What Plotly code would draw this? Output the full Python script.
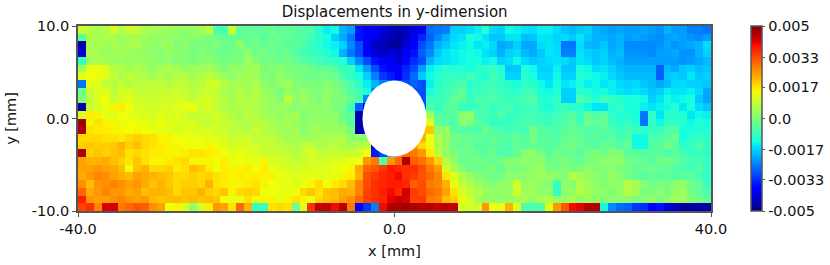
import plotly.graph_objects as go

# cell values, in units of 1e-4 mm, top row first
row_00 = [9,7,6,6,11,6,9,9,6,5, 4,4,3,2,3,4,8,-6,-7,9, -3,-3,-4,-3,-2,-4,-3,-4,-5,-6, -10,-14,-13,-20,-22,-36,-38,-38,-42,-44,
          -46,-44,-42,-40,-27,-26,-25,-17,-17,-16, -14,-10,-16,-17,-13,-14,-15,-16,-14,-14, -16,-18,-19,-18,-17,-20,-21,-22,-21,-22, -22,-21,-22,-23,-20,-22,-22,-25,-25,-26]
row_01 = [-4,6,5,6,5,4,5,5,4,3, 3,2,2,1,2,1,0,-1,-3,-2, -3,-3,-2,-4,-3,-2,-3,-4,-5,-7, -10,-12,-17,-21,-26,-36,-39,-41,-43,-46,
          -47,-44,-40,-34,-28,-24,-20,-16,-15,-11, -13,-15,-18,-18,-15,-15,-19,-18,-15,-15, -17,-16,-18,-15,-18,-20,-20,-21,-20,-22, -21,-22,-23,-24,-22,-21,-22,-23,-24,-22]
row_02 = [-46,5,5,4,5,4,5,6,3,2, 3,4,1,2,0,0,-1,1,-2,-2, 2,-2,-1,-3,-2,-3,-4,-4,-6,-8, -10,-13,-14,-17,-24,-30,-38,-44,-45,-47,
          -48,-42,-38,-30,-26,-20,-18,-15,-14,-13, -15,-14,-16,-21,-20,-17,-21,-21,-16,-15, -16,-26,-26,-16,-19,-20,-18,-21,-20,-24, -24,-24,-24,-23,-21,-23,-22,-21,-20,-16]
row_03 = [-42,6,5,3,4,5,4,3,3,2, 1,3,2,1,-1,1,0,-1,-2,-1, -1,2,-2,0,-2,-3,-2,-5,-7,-8, -9,-11,-13,-20,-26,-30,-38,-42,-44,-42,
          -44,-40,-36,-28,-24,-18,-15,-14,-13,-12, -13,-15,-17,-20,-17,-16,-19,-21,-18,-15, -16,-25,-25,-15,-17,-18,-17,-20,-19,-23, -23,-23,-24,-22,-22,-21,-23,-23,-20,-17]
row_04 = [-8,4,6,5,4,4,3,4,3,3, 2,2,1,1,0,1,2,1,-1,0, 0,4,1,-1,-1,-2,-1,-3,-4,-6, -7,-8,-9,-11,-17,-24,-30,-36,-38,-40,
          -42,-37,-33,-30,-20,-16,-15,-14,-13,-12, -12,-14,-13,-17,-16,-13,-16,-18,-17,-16, -15,-16,-18,-15,-16,-18,-17,-19,-20,-22, -22,-22,-22,-22,-22,-22,-23,-22,-21,-19]
row_05 = [4,13,14,12,7,6,5,6,5,3, 5,6,5,3,4,4,5,3,1,3, 3,4,5,0,1,2,0,-1,0,-2, -3,-3,-5,-8,-8,-15,-22,-30,-36,-38,
          -40,-34,-30,-22,-14,-12,-10,-11,-11,-12, -10,-9,-8,-11,-18,-18,-11,-13,-17,-17, -14,-18,-18,-12,-13,-16,-15,-17,-19,-20, -20,-20,-20,-28,-19,-21,-18,-17,-19,-18]
row_06 = [12,14,13,12,8,6,8,7,6,5, 7,5,6,7,5,6,8,6,4,2, 4,5,4,1,0,3,1,0,-1,-2, -1,-1,-2,-6,-9,-12,-17,-25,-32,-35,
          -38,-33,-27,-18,-13,-10,-9,-8,-9,-7, -9,-11,-7,-10,-17,-17,-10,-12,-16,-16, -13,-17,-17,-11,-12,-13,-14,-16,-18,-19, -19,-19,-19,-28,-18,-17,-18,-15,-18,-17]
row_07 = [-26,13,12,8,7,9,7,8,8,8, 8,7,8,8,6,7,10,10,7,5, 5,4,6,2,1,2,4,1,0,0, 0,1,0,-3,-6,-10,-14,-20,-25,-28,
          -30,-30,-28,-30,-14,-10,-8,-7,-6,-10, -9,-8,-8,-9,-10,-12,-9,-10,-13,-15, -12,-15,-14,-12,-14,-13,-15,-14,-16,-17, -16,-18,-19,-21,-19,-16,-16,-17,-17,-18]
row_08 = [-2,9,11,12,8,10,11,9,8,9, 9,9,10,9,7,9,10,8,6,4, 7,5,7,4,2,0,3,1,3,1, 1,2,1,-1,-5,-7,-12,-24,-30,-30,
          -30,-30,-30,-30,-12,-9,-7,-6,-3,-9, -8,-7,-6,-8,-9,-10,-8,-7,-12,-13, -11,-17,-17,-10,-11,-13,-12,-14,-15,-16, -15,-16,-18,-17,-14,-15,-15,-14,-16,-21]
row_09 = [0,8,12,14,9,11,12,10,9,10, 10,10,11,10,8,10,11,9,7,5, 7,6,7,5,3,1,8,2,4,2, 0,3,0,0,-3,-6,-24,-30,-30,-30,
          -30,-30,-30,-30,-8,-8,-7,-3,-4,-8, -6,-7,-5,-7,-8,-7,-6,-5,-10,-11, -9,-17,-17,-6,-8,-11,-7,-9,-10,-12, -11,-13,-17,-15,-12,-14,-13,-12,-18,-21]
row_10 = [-46,9,11,13,15,16,14,11,11,10, 11,11,12,13,14,10,11,8,7,6, 6,7,6,4,3,4,3,1,2,3, 2,2,0,-1,-8,-28,-40,-40,-40,-40,
          -30,-30,-30,-30,-6,-9,-5,-4,-8,-9, -7,-6,-9,-7,-6,-9,-8,-7,-10,-12, -9,-8,-11,-10,-13,-15,-15,-11,-9,-12, -12,-14,-15,-14,-13,-11,-15,-12,-16,-18]
row_11 = [12,16,15,13,12,14,13,12,11,11, 12,11,12,11,9,9,10,10,8,7, 5,8,7,5,4,3,4,5,1,2, 2,2,3,-2,-4,-46,-40,-40,-40,-40,
          -10,-10,-10,-10,4,-5,-5,-4,1,3, -6,-7,-8,-5,-9,-8,-7,-7,-8,-9, -7,-6,-4,-8,-3,-5,-4,-9,-11,-10, -12,-26,-9,-15,-10,-10,-11,-15,-13,-14]
row_12 = [47,15,17,15,15,13,14,14,13,12, 14,12,12,11,11,9,8,10,9,8, 7,6,7,8,5,4,5,3,2,3, 3,3,3,0,-4,-46,-40,-40,-40,-40,
          20,20,20,20,12,-3,-5,-6,2,0, -4,-6,-9,-9,-8,-7,-6,-6,-7,-8, -6,-6,-4,-7,-2,-3,-3,-8,-10,-9, -11,-26,-9,-13,-9,-9,-10,-13,-11,-12]
row_13 = [46,17,16,16,15,15,14,15,14,13, 13,12,11,12,12,11,12,10,10,8, 8,7,9,7,6,5,4,5,1,4, 5,3,4,3,0,-46,-40,-40,-40,-40,
          20,20,20,20,20,2,4,-4,-5,-5, -6,-2,-5,-6,-7,-6,-7,-1,-5,-5, -6,-4,-3,-4,-5,-5,-4,-6,-8,-7, -8,-10,-8,-8,-6,-5,-12,-12,-11,-11]
row_14 = [18,18,18,17,17,16,18,19,18,17, 15,15,14,14,13,13,12,12,11,9, 10,10,8,8,8,6,5,5,4,4, 5,6,6,6,2,3,2,-45,-40,-40,
          30,30,30,22,13,6,3,-1,-2,-3, -3,-4,-3,-4,-5,-3,-5,-1,-4,-4, -5,-3,-2,-3,-5,-4,-5,-4,-7,-5, -13,-13,-6,-6,-4,-2,-12,-10,-8,-10]
row_15 = [19,20,19,19,20,22,19,21,18,17, 16,15,15,14,14,14,15,14,12,11, 11,11,10,9,9,8,7,6,8,9, 6,7,8,6,5,6,8,-44,-40,-30,
          30,-30,24,18,14,6,3,-2,-3,-2, -5,-4,-4,-5,-6,-3,-4,-3,-4,-5, -4,-2,-1,-3,-4,-5,-3,-3,-5,-3, -13,-13,-5,-4,-1,-4,-10,-9,-6,-9]
row_16 = [46,19,20,19,20,21,17,18,17,16, 16,15,15,16,17,17,16,15,14,12, 14,12,11,9,10,9,8,7,9,11, 9,8,9,9,9,10,14,-35,-30,-20,
          30,30,28,25,16,8,3,0,-2,-2, -3,-4,-2,-6,-5,-3,1,2,-1,-4, -1,-3,-2,-4,-1,0,-1,1,0,-4, -4,-5,-4,-4,-6,-4,-7,-8,-8,-10]
row_17 = [24,22,22,23,21,19,17,20,17,15, 15,16,17,18,15,15,15,14,16,13, 14,13,13,15,11,11,10,9,9,11, 10,11,12,12,13,14,25,28,-6,25,
          30,46,31,29,25,19,7,3,-2,-2, -1,-2,-3,-1,1,1,3,2,2,-2, -1,0,-2,-3,0,1,2,2,2,-1, -2,-3,-4,-2,-1,-3,-5,-7,-6,-8]
row_18 = [24,24,25,24,23,21,14,20,22,18, 18,19,16,17,21,20,16,14,16,15, 15,16,14,16,13,11,11,10,11,11, 12,12,13,14,15,23,30,32,35,38,
          37,36,36,33,28,25,11,5,1,-2, -2,-1,0,-3,1,0,1,2,4,0, -1,1,0,0,2,1,1,2,0,-1, -3,-3,-2,-3,-4,-5,-6,-7,-5,-9]
row_19 = [23,25,27,26,24,22,21,24,23,22, 21,20,18,18,19,18,19,17,16,15, 16,15,16,15,15,13,13,12,12,13, 12,12,13,15,16,22,33,35,37,38,
          40,36,35,32,30,27,17,12,6,3, 1,0,-2,-1,2,1,2,3,4,3, 2,1,7,5,3,2,1,3,1,-1, -3,-4,-3,-4,-3,-5,-4,-3,-7,-9]
row_20 = [26,21,25,26,27,26,24,25,23,20, 22,20,18,19,19,18,22,17,16,15, 15,16,17,15,14,13,13,12,13,15, 18,14,16,18,21,27,33,36,37,38,
          38,37,31,33,28,27,22,13,9,6, 4,2,1,2,3,10,3,4,2,1, -8,2,1,6,4,2,1,2,3,7, 5,1,-1,0,-1,2,3,-2,-3,-9]
row_21 = [30,23,25,27,25,25,23,24,21,22, 22,21,18,20,20,22,19,18,20,15, 18,19,18,14,14,13,13,14,18,20, 17,20,21,23,22,27,34,36,38,40,
          37,43,35,33,30,28,24,17,11,8, 6,4,2,3,3,10,4,5,2,3, -9,2,3,7,5,3,2,1,3,7, 4,0,0,1,0,3,4,-1,-3,-6]
row_22 = [38,25,24,24,26,27,25,24,25,21, 20,21,21,20,21,20,21,20,14,13, 13,17,14,15,15,13,15,17,15,13, 18,20,21,24,26,30,34,36,37,41,
          44,42,34,35,28,27,21,19,13,11, 5,3,3,2,3,4,6,2,5,7, 3,3,5,2,4,2,1,2,2,2, 0,1,3,0,2,5,4,1,-1,-3]
row_23 = [34,36,27,42,43,28,30,32,31,26, 24,14,15,12,2,10,16,25,24,17, 30,22,-9,-8,17,18,17,-2,12,36, 44,44,40,45,28,-38,-32,-25,40,46,
          46,47,46,45,45,44,45,44,11,10, 10,25,14,13,22,12,-6,-6,-5,12, 25,32,40,41,45,45,-13,-24,-27,-28, -32,-33,-39,-36,-42,-44,-47,-47,-46,-47]

z_rows = [row_00, row_01, row_02, row_03, row_04, row_05, row_06, row_07,
          row_08, row_09, row_10, row_11, row_12, row_13, row_14, row_15,
          row_16, row_17, row_18, row_19, row_20, row_21, row_22, row_23]

hole_radius_x = 4.05
hole_radius_y = 4.1

x_ticks = [-40, 0, 40]
x_labels = ["-40.0", "0.0", "40.0"]
y_ticks = [-10, 0, 10]
y_labels = ["-10.0", "0.0", "10.0"]
cb_ticks = [-0.005, -0.0033, -0.0017, 0, 0.0017, 0.0033, 0.005]
cb_labels = ["-0.005", "-0.0033", "-0.0017", "0.0", "0.0017", "0.0033", "0.005"]

# matplotlib's jet, plotly's own Jet differs
jet = [
    [0, "rgb(0,0,127)"], [0.11, "rgb(0,0,255)"], [0.125, "rgb(0,0,255)"],
    [0.34, "rgb(0,219,255)"], [0.35, "rgb(0,230,247)"], [0.375, "rgb(20,255,226)"],
    [0.64, "rgb(239,255,8)"], [0.65, "rgb(247,246,0)"], [0.66, "rgb(255,236,0)"],
    [0.89, "rgb(255,19,0)"], [0.91, "rgb(232,0,0)"], [1, "rgb(127,0,0)"],
]

axis_color = "#555555"
text_font = dict(family="DejaVu Sans", size=14.5, color="#111111")

z = [[v * 1e-4 for v in row] for row in z_rows]

fig = go.Figure(go.Heatmap(
    z=z,
    x0=-39.5, dx=1,
    y0=9.5833, dy=-20 / 24,
    colorscale=jet, zmin=-0.005, zmax=0.005,
    colorbar=dict(
        x=1.063, xanchor="left", xpad=0, ypad=0,
        y=0.5, yanchor="middle", len=1, lenmode="fraction",
        thickness=11, thicknessmode="pixels",
        tickmode="array", tickvals=cb_ticks, ticktext=cb_labels,
        ticks="outside", ticklen=3, tickwidth=1, tickcolor=axis_color,
        outlinecolor=axis_color, outlinewidth=1.5,
        tickfont=text_font,
    ),
))

fig.add_shape(
    type="circle", xref="x", yref="y",
    x0=-hole_radius_x, x1=hole_radius_x, y0=-hole_radius_y, y1=hole_radius_y,
    fillcolor="white", line_width=0,
)

fig.update_xaxes(
    range=[-40, 40], tickmode="array", tickvals=x_ticks, ticktext=x_labels,
    ticks="outside", ticklen=4, tickcolor=axis_color, tickfont=text_font,
    showgrid=False, zeroline=False, showline=True, linecolor=axis_color, linewidth=1.5, mirror=True,
    title=dict(text="x [mm]", font=text_font, standoff=10),
)
fig.update_yaxes(
    range=[-10, 10], tickmode="array", tickvals=y_ticks, ticktext=y_labels,
    ticks="outside", ticklen=4, tickcolor=axis_color, tickfont=text_font,
    showgrid=False, zeroline=False, showline=True, linecolor=axis_color, linewidth=1.5, mirror=True,
    title=dict(text="y [mm]", font=text_font, standoff=12),
)

fig.update_layout(
    width=830, height=265,
    margin=dict(l=78, r=119, t=26, b=54, autoexpand=False),
    paper_bgcolor="white", plot_bgcolor="white",
    title=dict(text="Displacements in y-dimension", font=dict(family="DejaVu Sans", size=15, color="#111111"),
               x=0.4755, xanchor="center", y=0.955, yanchor="middle"),
)

# drop the page's default body margin so the title fits above the plot
fig.write_html("out.html", config={"displayModeBar": False},
               post_script="document.body.style.margin='0';")
